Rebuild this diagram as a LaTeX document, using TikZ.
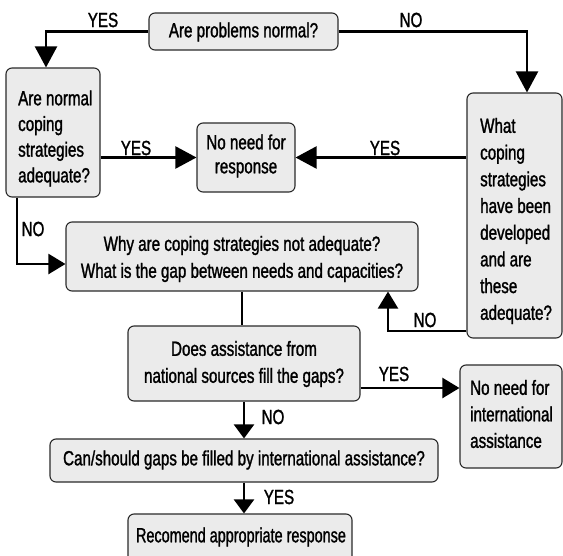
\documentclass[tikz,border=0pt]{standalone}
\usepackage{fontspec}
\setmainfont{Liberation Sans}[FakeStretch=0.74,FakeBold=1.3]
\usetikzlibrary{arrows.meta}
\definecolor{boxgray}{HTML}{EBEBEB}
\definecolor{boxline}{HTML}{2A2A2A}
\begin{document}
\begin{tikzpicture}[x=1pt,y=-1pt,
  box/.style={draw=boxline, line width=1.1pt, fill=boxgray, rounded corners=6pt, inner sep=0pt},
  txt/.style={font=\fontsize{20.5}{26.5}\selectfont, inner sep=0pt, align=center},
  ltxt/.style={font=\fontsize{20.5}{26.5}\selectfont, inner sep=0pt, align=left, anchor=west},
  lbl/.style={font=\fontsize{20.5}{24}\selectfont, inner sep=0pt},
  conn/.style={line width=2.2pt, draw=black},
  bigtip/.style={-{Triangle[length=21pt,width=22pt]}},
  medtip/.style={-{Triangle[length=17pt,width=20pt]}},
  smalltip/.style={-{Triangle[length=14pt,width=20pt]}}
]
\useasboundingbox (0,0) rectangle (563,555);

% boxes
\node[box, minimum width=189pt, minimum height=37pt] (top) at (243.5,31.5) {};
\node[box, minimum width=94pt, minimum height=129pt] (left) at (53,132.5) {};
\node[box, minimum width=98pt, minimum height=69pt] (nr) at (246,157.5) {};
\node[box, minimum width=95pt, minimum height=245pt] (right) at (514.5,215.5) {};
\node[box, minimum width=352pt, minimum height=69pt] (why) at (242,256.5) {};
\node[box, minimum width=232pt, minimum height=75pt] (does) at (244,363.5) {};
\node[box, minimum width=102pt, minimum height=103pt] (intl) at (511,416.5) {};
\node[box, minimum width=388pt, minimum height=43pt] (can) at (244,460.5) {};
\node[box, minimum width=224pt, minimum height=48pt] (rec) at (240,538) {};

% texts
\node[txt] (ttop) at (243.5,32) {Are problems normal?};
\node[ltxt, font=\fontsize{20.5}{25.7}\selectfont] (tleft) at (18,138.5) {Are normal\\coping\\strategies\\adequate?};
\node[txt, font=\fontsize{20.5}{24}\selectfont] (tnr) at (246,156) {No need for\\response};
\node[ltxt, font=\fontsize{20.5}{26.7}\selectfont] (tright) at (480,221) {What\\coping\\strategies\\have been\\developed\\and are\\these\\adequate?};
\node[txt, font=\fontsize{20.5}{27}\selectfont] (twhy) at (242,259) {Why are coping strategies not adequate?\\What is the gap between needs and capacities?};
\node[txt, font=\fontsize{20.5}{27}\selectfont] (tdoes) at (244,364) {Does assistance from\\national sources fill the gaps?};
\node[ltxt, font=\fontsize{20.5}{26.5}\selectfont] (tintl) at (470,414) {No need for\\international\\assistance};
\node[txt] (tcan) at (244,460) {Can/should gaps be filled by international assistance?};
\node[txt] (trec) at (241,537) {\scalebox{0.95}[1]{Recomend appropriate response}};

% connectors
\draw[conn, bigtip] (top.west) -| ([xshift=-7pt]left.north);
\draw[conn, bigtip] (top.east) -| ([xshift=12.5pt]right.north);
\draw[conn, bigtip] (left.east |- nr.west) -- (nr.west);
\draw[conn, bigtip] (right.west |- nr.east) -- (nr.east);
\draw[conn, medtip] ([xshift=-36pt]left.south) |- ([yshift=-7.5pt]why.west);
\draw[conn, medtip] ([yshift=-115.5pt]right.west) -| ([xshift=146pt]why.south);
\draw[conn] (why.south) -- (why.south |- does.north);
\coordinate (dy) at ([yshift=-24.5pt]does.east);
\draw[conn, medtip] (dy) -- (dy -| intl.west);
\draw[conn, smalltip] (does.south) -- (does.south |- can.north);
\draw[conn, smalltip] (can.south) -- (can.south |- rec.north);

% labels
\node[lbl] (l1) at (103,20) {YES};
\node[lbl] (l2) at (411,20) {NO};
\node[lbl] (l3) at (136,148) {YES};
\node[lbl] (l4) at (385,148) {YES};
\node[lbl] (l5) at (33,229) {NO};
\node[lbl] (l6) at (425,320) {NO};
\node[lbl] (l7) at (394,374) {YES};
\node[lbl] (l8) at (273,417) {NO};
\node[lbl] (l9) at (279,497) {YES};
\end{tikzpicture}
\end{document}
